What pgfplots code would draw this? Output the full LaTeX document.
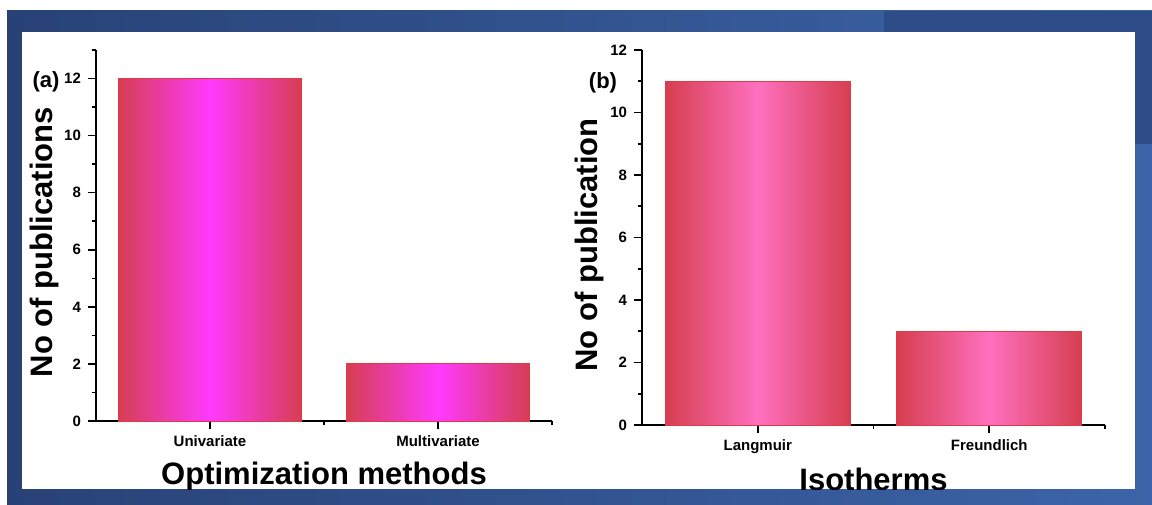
\documentclass[border=0pt]{standalone}
\usepackage{pgfplots}
\pgfplotsset{compat=1.18}
\usepackage{fontspec}
\setmainfont{Liberation Sans}
\definecolor{aedge}{RGB}{214,62,82}
\definecolor{amid}{RGB}{255,58,255}
\definecolor{bedge}{RGB}{214,62,78}
\definecolor{bmid}{RGB}{255,112,192}
\definecolor{barline}{RGB}{222,58,72}
\definecolor{blueL}{RGB}{40,66,118}
\definecolor{blueR}{RGB}{60,100,168}
\definecolor{blueD}{RGB}{46,76,136}
\pgfplotsset{
  myaxis/.style={
    scale only axis, anchor=south west,
    axis lines=left, axis line style={-, line width=0.8pt},
    ymin=0, xmin=-0.5, xmax=1.5,
    xtick={0,1}, minor xtick={0.5,1.5},
    ytick={0,2,...,12}, minor ytick={1,3,...,13},
    tick align=outside, major tick length=4pt, minor tick length=2.2pt,
    every tick/.style={black, line width=0.8pt},
    /pgf/number format/assume math mode=true,
    ticklabel style={font=\bfseries\fontsize{7.5}{9}\selectfont},
    label style={font=\bfseries\fontsize{15.5}{18}\selectfont},
    clip=false,
  },
  mybar/.style={ybar, bar width=0.8, bar shift=0pt, draw=barline, line width=0.5pt},
}
\begin{document}
\begin{tikzpicture}
\useasboundingbox (0,0) rectangle (576pt,252pt);
\fill[white] (0,0) rectangle (576pt,252pt);
\shade[left color=blueL, right color=blueR] (3.5pt,0) rectangle (576pt,246.5pt);
\fill[blueD] (442pt,180pt) rectangle (576pt,246.5pt);
\fill[white] (11pt,7.5pt) rectangle (567.5pt,236pt);
\begin{scope}
\clip (11pt,7.5pt) rectangle (567.5pt,236pt);
\begin{axis}[myaxis, at={(48pt,41.5pt)}, width=228pt, height=185.5pt, ymax=13,
  xticklabels={Univariate,Multivariate},
  ylabel={No of publications},
  ylabel style={at={(axis description cs:-0.112,0.482)}, anchor=center},
  xlabel={Optimization methods},
  xlabel style={at={(axis description cs:0.5,-0.172)}, anchor=base},
]
\addplot[mybar, left color=aedge, right color=aedge, middle color=amid] coordinates {(0,12)};
\addplot[mybar, left color=aedge, right color=aedge, middle color=amid] coordinates {(1,2)};
\end{axis}
\begin{axis}[myaxis, at={(321pt,39.5pt)}, width=231.5pt, height=187.5pt, ymax=12,
  minor ytick={1,3,...,11},
  xticklabels={Langmuir,Freundlich},
  ylabel={No of publication},
  ylabel style={at={(axis description cs:-0.1145,0.48)}, anchor=center},
  xlabel={Isotherms},
  xlabel style={at={(axis description cs:0.5,-0.174)}, anchor=base},
]
\addplot[mybar, left color=bedge, right color=bedge, middle color=bmid] coordinates {(0,11)};
\addplot[mybar, left color=bedge, right color=bedge, middle color=bmid] coordinates {(1,3)};
\end{axis}
\end{scope}
\node[font=\bfseries\fontsize{11}{13}\selectfont] at (23pt,211pt) {(a)};
\node[font=\bfseries\fontsize{11}{13}\selectfont] at (301.5pt,210.5pt) {(b)};
\end{tikzpicture}
\end{document}
